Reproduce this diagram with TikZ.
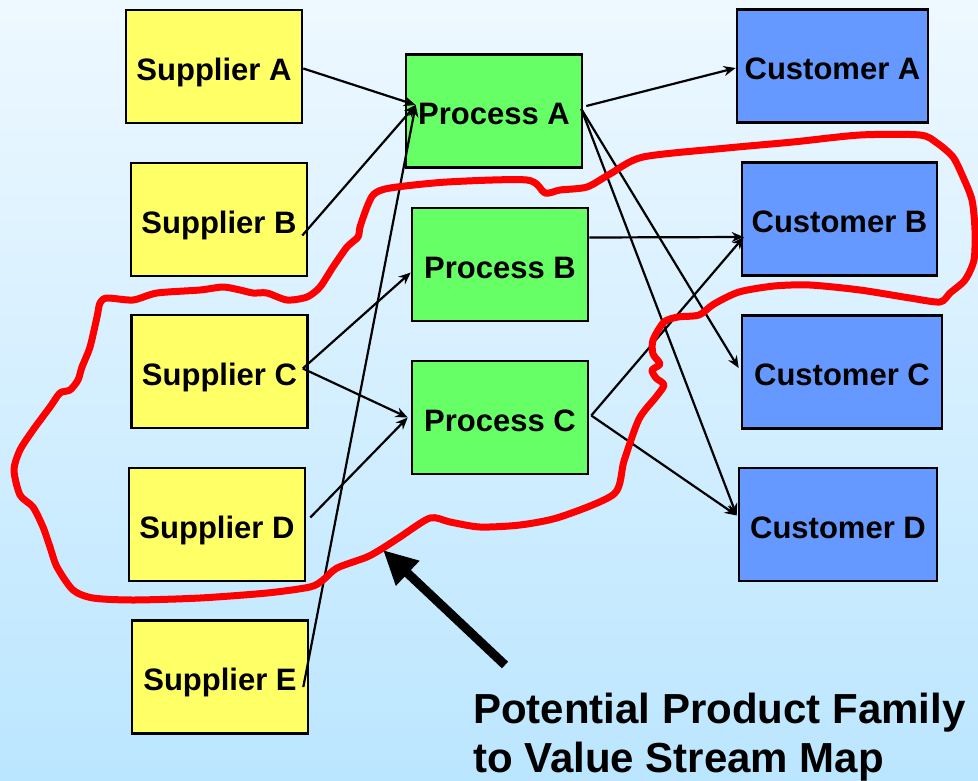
\documentclass[tikz,border=0pt]{standalone}
\usepackage{fontspec}
\setmainfont{Liberation Sans}
\usetikzlibrary{arrows.meta,calc}
\definecolor{bgtop}{RGB}{238,248,255}
\definecolor{bgbot}{RGB}{187,230,255}
\definecolor{supfill}{RGB}{255,255,102}
\definecolor{procfill}{RGB}{102,255,102}
\definecolor{custfill}{RGB}{102,153,255}
\definecolor{loopred}{RGB}{255,0,0}
\begin{document}
\begin{tikzpicture}[x=1pt,y=-1pt,
  box/.style={draw=black,line width=2.6pt,minimum height=113pt,inner sep=0pt,
    text height=27pt,text depth=0pt,
    font=\fontsize{31}{36}\selectfont\bfseries},
  supbox/.style={box,fill=supfill,minimum width=176pt},
  procbox/.style={box,fill=procfill,minimum width=176pt},
  custbox/.style={box,fill=custfill},
  flow/.style={draw=black,line width=2.2pt,-{Stealth[length=12pt,width=10pt]}},
  loopline/.style={draw=loopred,line width=7pt,line join=round},
  pointer/.style={draw=black,line width=9pt,-{Triangle[length=34pt,width=32pt]}},
  caption/.style={anchor=north west,align=left,inner sep=0pt,
    font=\fontsize{42}{49}\selectfont\bfseries}]
\useasboundingbox (0,0) rectangle (978,780);
\shade[top color=bgtop,bottom color=bgbot] (0,0) rectangle (978,780);

% suppliers
\node[supbox] (sa) at (214,66.5) {Supplier A};
\node[supbox] (sb) at (219,219.5) {Supplier B};
\node[supbox] (sc) at (219.5,371.5) {Supplier C};
\node[supbox] (sd) at (217,524.5) {Supplier D};
\node[supbox] (se) at (220,677) {Supplier E};
% processes
\node[procbox] (pa) at (494,111) {Process A};
\node[procbox] (pb) at (500,264.5) {Process B};
\node[procbox] (pc) at (500,417.5) {Process C};
% customers
\node[custbox,minimum width=191pt] (ca) at (832.5,66) {Customer A};
\node[custbox,minimum width=195pt] (cb) at (839.5,219) {Customer B};
\node[custbox,minimum width=200pt] (cc) at (842,372) {Customer C};
\node[custbox,minimum width=198pt] (cd) at (838,524.5) {Customer D};

% connection points
\coordinate (saOut) at ($(sa.east)+(0,2)$);
\coordinate (sbOut) at ($(sb.east)+(-6,16)$);
\coordinate (scOut) at ($(sc.east)+(-6,-3)$);
\coordinate (sdOut) at ($(sd.east)+(4,-7)$);
\coordinate (seOut) at ($(se.east)+(-6,10)$);
\coordinate (paIn) at ($(pa.west)+(11,-6)$);
\coordinate (paOut) at ($(pa.east)+(3,-5)$);
\coordinate (paOut2) at ($(pa.east)+(-2,-2)$);
\coordinate (pbIn) at ($(pb.west)+(0,8)$);
\coordinate (pbOut) at ($(pb.east)+(0,-27)$);
\coordinate (pcIn) at ($(pc.west)+(-3,0)$);
\coordinate (pcOut) at ($(pc.east)+(2,-2)$);
\coordinate (caIn) at ($(ca.west)+(0,2)$);
\coordinate (cbIn) at ($(cb.west)+(3,18)$);
\coordinate (ccIn) at ($(cc.west)+(-2,-4)$);
\coordinate (cdIn) at ($(cd.west)+(-1,-9)$);

% flows
\draw[flow] (saOut) -- (paIn);
\draw[flow] (sbOut) -- (paIn);
\draw[flow] (seOut) -- (paIn);
\draw[flow] (scOut) -- (pbIn);
\draw[flow] (scOut) -- (pcIn);
\draw[flow] (sdOut) -- (pcIn);
\draw[flow] (paOut) -- (caIn);
\draw[flow] (paOut2) -- (ccIn);
\draw[flow] (paOut2) -- (cdIn);
\draw[flow] (pbOut) -- (cbIn);
\draw[flow] (pcOut) -- (cbIn);
\draw[flow] (pcOut) -- (cdIn);

% freehand product family loop
\draw[loopline] plot[smooth cycle,tension=0.45] coordinates {
 (360,227) (367,207) (374,194) (390,188) (447,182) (527,180) (545,193) (560,190)
 (587,187) (610,174) (643,157) (727,148) (793,142) (860,135) (920,135) (937,143)
 (953,157) (963,177) (972,200) (975,230) (974,260) (965,280) (950,293) (940,302)
 (910,298) (860,290) (810,285) (774,286) (739,292) (714,304) (699,315) (678,317)
 (664,322) (653,340) (653,354) (660,364) (652,370) (656,378) (664,385) (656,397)
 (639,419) (624,461) (614,494) (560,517) (520,525) (480,527) (450,522) (430,518)
 (400,537) (383,548) (367,557) (337,568) (323,580) (310,587) (267,593) (200,598)
 (133,600) (93,598) (73,590) (57,567) (50,547) (43,527) (33,507) (20,495)
 (14,470) (20,450) (33,430) (50,407) (60,393) (70,390) (78,380) (82,367)
 (90,347) (97,317) (100,303) (107,298) (133,300) (157,293) (200,290) (223,287)
 (240,290) (253,293) (267,293) (287,300) (307,297) (320,287) (333,267) (347,247)
 (358,237)};

% pointer and caption
\coordinate (ptrTail) at (505,665);
\coordinate (ptrTip) at (383,550);
\draw[pointer] (ptrTail) -- (ptrTip);
\node[caption] (cap) at (473,693) {Potential Product Family\\to Value Stream Map};
\end{tikzpicture}
\end{document}
